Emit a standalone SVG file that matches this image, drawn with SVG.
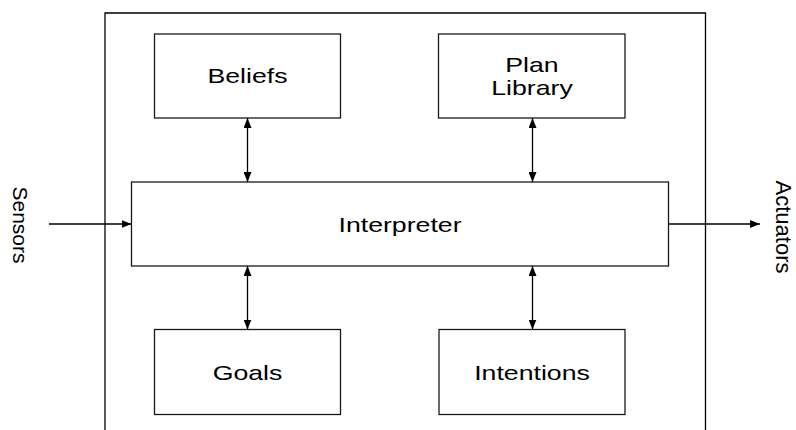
<svg xmlns="http://www.w3.org/2000/svg" width="796" height="430" viewBox="0 0 796 430">
<style>
.box{fill:#fff;stroke:#1a1a1a;stroke-width:1.3}
.t{font-family:"Liberation Sans",Arial,sans-serif;font-size:21px;fill:#000;text-anchor:middle}
.c{stroke:#000;stroke-width:1.3;fill:none}
</style>
<defs>
<marker id="ah" viewBox="0 0 10 8" refX="10" refY="4" markerWidth="10" markerHeight="8" markerUnits="userSpaceOnUse" orient="auto-start-reverse">
<path d="M0,0 L10,4 L0,8 Z" fill="#000"/>
</marker>
</defs>
<g id="agent"><path class="c" d="M105,430 V13 H705.5 V430"/></g>
<g id="beliefs"><rect class="box" x="154.5" y="34" width="186" height="84"/><text class="t" transform="translate(247.5,83) scale(1.27,1)">Beliefs</text></g>
<g id="plan-library"><rect class="box" x="438.5" y="34" width="186.5" height="84"/><text class="t" transform="translate(532,72) scale(1.27,1)">Plan</text><text class="t" transform="translate(532,95) scale(1.27,1)">Library</text></g>
<g id="interpreter"><rect class="box" x="131.5" y="182" width="537" height="84"/><text class="t" transform="translate(400,232) scale(1.27,1)">Interpreter</text></g>
<g id="goals"><rect class="box" x="154.5" y="329.5" width="186" height="85"/><text class="t" transform="translate(247.5,380) scale(1.27,1)">Goals</text></g>
<g id="intentions"><rect class="box" x="439" y="329.5" width="186" height="85"/><text class="t" transform="translate(532,380) scale(1.27,1)">Intentions</text></g>
<g id="sensors"><text class="t" transform="translate(13,225) rotate(90)">Sensors</text></g>
<g id="actuators"><text class="t" style="font-size:22px" transform="translate(776,227) rotate(90)">Actuators</text></g>
<g id="connectors">
<line class="c" x1="247.5" y1="118" x2="247.5" y2="182" marker-start="url(#ah)" marker-end="url(#ah)"/>
<line class="c" x1="532.5" y1="118" x2="532.5" y2="182" marker-start="url(#ah)" marker-end="url(#ah)"/>
<line class="c" x1="247.5" y1="266" x2="247.5" y2="329.5" marker-start="url(#ah)" marker-end="url(#ah)"/>
<line class="c" x1="532.5" y1="266" x2="532.5" y2="329.5" marker-start="url(#ah)" marker-end="url(#ah)"/>
<line class="c" x1="49" y1="224" x2="131.5" y2="224" marker-end="url(#ah)"/>
<line class="c" x1="668.5" y1="224" x2="760" y2="224" marker-end="url(#ah)"/>
</g>
</svg>
